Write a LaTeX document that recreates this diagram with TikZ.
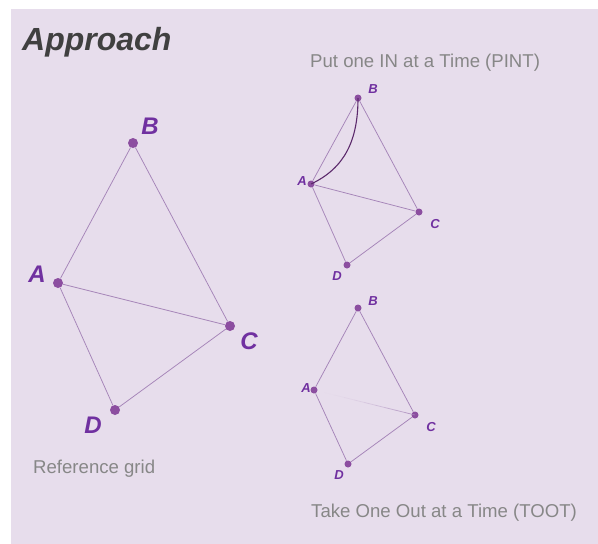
\documentclass[tikz,border=0pt]{standalone}
\usepackage{fontspec}
\setmainfont{Liberation Sans}
\usetikzlibrary{calc,positioning}
\definecolor{bgpurple}{RGB}{231,221,236}
\definecolor{dotpurple}{RGB}{140,78,160}
\definecolor{lblpurple}{RGB}{112,48,160}
\definecolor{linepurple}{RGB}{165,132,184}
\definecolor{curvepurple}{RGB}{92,42,108}
\definecolor{titlegray}{RGB}{64,64,64}
\definecolor{capgray}{RGB}{135,135,135}

\begin{document}
\begin{tikzpicture}[x=1pt,y=-1pt,
  bigpt/.style={circle,fill=dotpurple,inner sep=0pt,minimum size=10pt},
  smallpt/.style={circle,fill=dotpurple,inner sep=0pt,minimum size=7pt},
  edge/.style={draw=linepurple,line width=0.75pt},
  biglbl/.style={text=lblpurple,font=\bfseries\itshape\fontsize{24}{24}\selectfont,inner sep=0pt},
  smalllbl/.style={text=lblpurple,font=\bfseries\itshape\fontsize{13}{13}\selectfont,inner sep=0pt},
  caption/.style={text=capgray,font=\fontsize{18.6}{18.6}\selectfont,inner sep=0pt,anchor=base west}]
\useasboundingbox (0,0) rectangle (598,544);
\fill[bgpurple] (11,9) rectangle (598,544);

% title
\node[anchor=base west,inner sep=0pt,text=titlegray,font=\bfseries\itshape\fontsize{32}{32}\selectfont] (title) at (22,50) {Approach};

% reference grid
\node[bigpt] (rA) at (58,283) {};
\node[bigpt] (rB) at (133,143) {};
\node[bigpt] (rC) at (230,326) {};
\node[bigpt] (rD) at (115,410) {};
\node[biglbl] (rAl) at (37,274) {A};
\node[biglbl] (rBl) at (150,126) {B};
\node[biglbl] (rCl) at (249,341) {C};
\node[biglbl] (rDl) at (93,425) {D};
\draw[edge] (rA) -- (rB) -- (rC) -- (rD) -- (rA) -- (rC);
\node[caption] (rcap) at (33,473) {Reference grid};

% PINT
\node[caption] (pcap) at (310,67) {Put one IN at a Time (PINT)};
\node[smallpt] (pA) at (311,184) {};
\node[smallpt] (pB) at (358,98) {};
\node[smallpt] (pC) at (419,212) {};
\node[smallpt] (pD) at (347,265) {};
\node[smalllbl] (pAl) at (302,181) {A};
\node[smalllbl] (pBl) at (373,89) {B};
\node[smalllbl] (pCl) at (435,224) {C};
\node[smalllbl] (pDl) at (337,276) {D};
\draw[edge] (pA) -- (pB) -- (pC) -- (pD) -- (pA) -- (pC);
\draw[curvepurple,line width=1.1pt] (pA.center) .. controls (345,168) and (358,140) .. (pB.center);

% TOOT
\node[smallpt] (tA) at (314,390) {};
\node[smallpt] (tB) at (358,308) {};
\node[smallpt] (tC) at (415,415) {};
\node[smallpt] (tD) at (348,464) {};
\node[smalllbl] (tAl) at (306,388) {A};
\node[smalllbl] (tBl) at (373,301) {B};
\node[smalllbl] (tCl) at (431,427) {C};
\node[smalllbl] (tDl) at (339,475) {D};
\draw[edge] (tA) -- (tB) -- (tC) -- (tD) -- (tA);
\foreach \i in {0,...,9}
  \draw[edge,opacity=\i*\i/100] ($(tA)!\i/10!(tC)$) -- ($(tA)!\i/10+0.1!(tC)$);
\node[caption] (tcap) at (311,517) {Take One Out at a Time (TOOT)};
\end{tikzpicture}
\end{document}
